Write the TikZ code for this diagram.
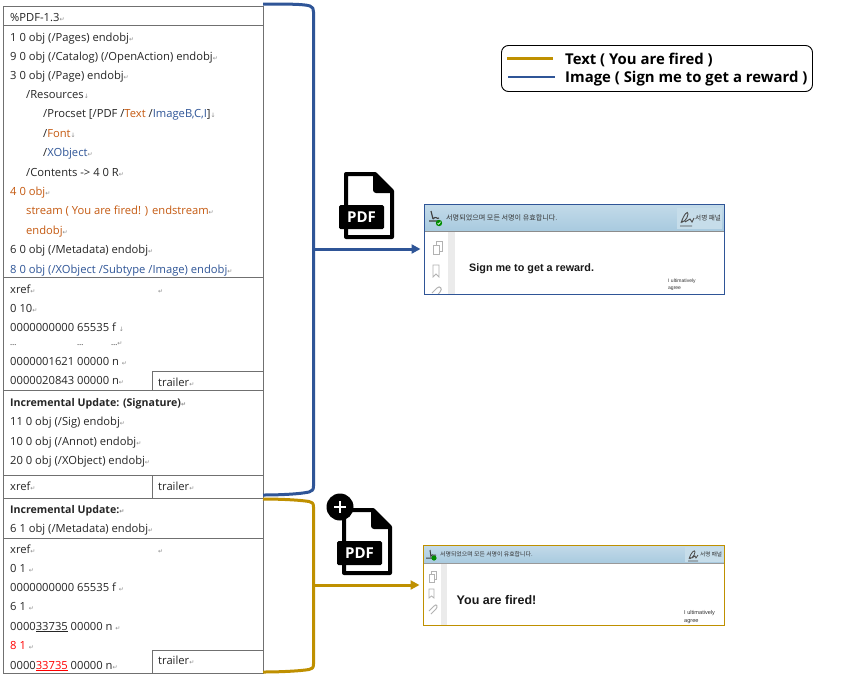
\documentclass[tikz,border=0pt]{standalone}
\usepackage{fontspec}
\setmainfont{Open Sans}
\newfontfamily\krfont{Noto Sans CJK KR}
\newfontfamily\arialfont{Liberation Sans}
\newfontfamily\symfont{DejaVu Sans}
\usetikzlibrary{arrows.meta}
\definecolor{imgblue}{HTML}{2F5597}
\definecolor{txtgold}{HTML}{BF9000}
\definecolor{objorange}{HTML}{C55A11}
\definecolor{markgrey}{HTML}{8A8A8A}
\definecolor{hdrblue}{HTML}{A8CADF}
\definecolor{rulegrey}{HTML}{707070}
\newcommand{\rt}{{\symfont\fontsize{6}{6}\selectfont\textcolor{markgrey}{↵}}}
\newcommand{\dn}{{\symfont\fontsize{6}{6}\selectfont\textcolor{markgrey}{↓}}}
\newcommand{\oc}[1]{\textcolor{objorange}{#1}}
\newcommand{\bc}[1]{\textcolor{imgblue}{#1}}
\tikzset{
  x=1pt,y=-1pt,
  code/.style={anchor=base west,inner sep=0pt,font=\fontsize{11.2}{12}\selectfont,text=black!85},
  rowline/.style={draw=rulegrey,line width=1pt},
  brace/.style={line width=3pt,line join=round,rounded corners=0pt},
  shotlabel/.style={anchor=base west,inner sep=0pt,text=black!80},
  note/.style={anchor=base west,inner sep=0pt,font=\arialfont\fontsize{5}{6}\selectfont,text=black!80},
  headline/.style={anchor=base west,inner sep=0pt,font=\arialfont\bfseries,text=black!90},
  legendtext/.style={anchor=base west,inner sep=0pt,font=\bfseries\fontsize{14.9}{16}\selectfont,text=black},
  sideicon/.style={draw=black!30,line width=0.8pt,fill=white},
  boldrow/.style={font=\bfseries\fontsize{10.6}{12}\selectfont},
  flow/.style={line width=3pt,-{Triangle[length=9pt,width=9pt]}},
}
\begin{document}
\begin{tikzpicture}
\useasboundingbox (0,0) rectangle (841,678);
\fill[white] (0,0) rectangle (841,678);

% table outline and rows
\draw[rowline] (3,6) rectangle (263,673);
\foreach \yy in {25,277,390,475,498,538} \draw[rowline] (3,\yy) -- (263,\yy);
\draw[rowline] (152,371) -- (263,371);
\draw[rowline] (152,371) -- (152,390);
\draw[rowline] (152,475) -- (152,498);
\draw[rowline] (152,650) -- (263,650);
\draw[rowline] (152,650) -- (152,673);

% first block
\node[code] (t01) at (10,21) {\%PDF-1.3\rt};
\node[code] (t02) at (10,41) {1 0 obj (/Pages) endobj\rt};
\node[code] (t03) at (10,60) {9 0 obj (/Catalog) (/OpenAction) endobj\rt};
\node[code] (t04) at (10,79) {3 0 obj (/Page) endobj\rt};
\node[code] (t05) at (26,98) {/Resources\dn};
\node[code] (t06) at (43,117) {/Procset [/PDF /\oc{Text} /\bc{ImageB,C,I}]\dn};
\node[code] (t07) at (43,137) {/\oc{Font}\dn};
\node[code] (t08) at (43,156) {/\bc{XObject}\rt};
\node[code] (t09) at (26,176) {/Contents -> 4 0 R\rt};
\node[code,text=objorange] (t10) at (10,195) {4 0 obj\rt};
\node[code,text=objorange] (t11) at (26,214) {stream ( You are fired! ) endstream\rt};
\node[code,text=objorange] (t12) at (26,234) {endobj\rt};
\node[code] (t13) at (10,253) {6 0 obj (/Metadata) endobj\rt};
\node[code,text=imgblue] (t14) at (10,273) {8 0 obj (/XObject /Subtype /Image) endobj\rt};

% first xref
\node[code] (t15) at (10,293) {xref\rt};
\node[code] (t16) at (158,293) {\rt};
\node[code] (t17) at (10,312) {0 10\rt};
\node[code] (t18) at (10,331) {0000000000 65535 f \dn};
\node[code] (t19) at (10,345) {\fontsize{8}{8}\selectfont …};
\node[code] (t20) at (77,345) {\fontsize{8}{8}\selectfont …};
\node[code] (t21) at (111,345) {\fontsize{8}{8}\selectfont …\rt};
\node[code] (t22) at (10,365) {0000001621 00000 n \rt};
\node[code] (t23) at (10,384) {0000020843 00000 n\rt};
\node[code] (t24) at (158,386) {trailer\rt};

% signature update
\node[code,boldrow] (t25) at (10,406) {Incremental Update: (Signature)\rt};
\node[code] (t26) at (10,425) {11 0 obj (/Sig) endobj\rt};
\node[code] (t27) at (10,445) {10 0 obj (/Annot) endobj\rt};
\node[code] (t28) at (10,464) {20 0 obj (/XObject) endobj\rt};
\node[code] (t29) at (10,490) {xref\rt};
\node[code] (t30) at (158,490) {trailer\rt};

% second update
\node[code,boldrow] (t31) at (10,513) {Incremental Update:\rt};
\node[code] (t32) at (10,532) {6 1 obj (/Metadata) endobj\rt};
\node[code] (t33) at (10,553) {xref\rt};
\node[code] (t34) at (158,553) {\rt};
\node[code] (t35) at (10,572) {0 1 \rt};
\node[code] (t36) at (10,591) {0000000000 65535 f \rt};
\node[code] (t37) at (10,610) {6 1 \rt};
\node[code] (t38) at (10,630) {0000\underline{33735} 00000 n \rt};
\node[code] (t39) at (10,649) {\textcolor{red}{8 1} \rt};
\node[code] (t40) at (10,669) {0000\textcolor{red}{\underline{33735}} 00000 n\rt};
\node[code] (t41) at (158,664) {trailer\rt};

% PDF icon 1
\begin{scope}[shift={(339,172)}]
  \draw[line width=4pt,line join=round,fill=white] (7,2) -- (36,2) -- (53,19) -- (53,65) -- (7,65) -- cycle;
  \fill[black,rounded corners=1pt] (34,0) -- (55,21) -- (36,21) -- (34,19) -- cycle;
  \fill[black,rounded corners=1.5pt] (0,33) rectangle (45,57);
  \node[anchor=center,inner sep=0pt,text=white,font=\bfseries\fontsize{15}{15}\selectfont] (pdfa) at (22.5,45) {PDF};
\end{scope}

% PDF icon 2
\begin{scope}[shift={(337,508)}]
  \draw[line width=4pt,line join=round,fill=white] (7,2) -- (36,2) -- (53,19) -- (53,65) -- (7,65) -- cycle;
  \fill[black,rounded corners=1pt] (34,0) -- (55,21) -- (36,21) -- (34,19) -- cycle;
  \fill[black,rounded corners=1.5pt] (0,33) rectangle (45,57);
  \node[anchor=center,inner sep=0pt,text=white,font=\bfseries\fontsize{15}{15}\selectfont] (pdfb) at (22.5,45) {PDF};
\end{scope}
\fill[black] (340,507) circle (13.5);
\draw[white,line width=2pt] (334,507) -- (346,507) (340,501) -- (340,513);

% screenshot 1
\coordinate (shotaW) at (420.5,249);
\begin{scope}
  \clip (425,204) rectangle (724,294);
  \fill[white] (425,204) rectangle (724,294);
  \shade[top color=hdrblue!70,bottom color=hdrblue] (425,205) rectangle (724,231);
  \fill[black!45] (425,230.5) rectangle (724,232);
  \fill[hdrblue!65] (677,208) rectangle (722,229);
  \fill[black!8] (448,232) rectangle (455,294);
  % signature glyph
  \draw[black!75,line width=1.1pt] (431,211) -- (433,219) (429,221) -- (438,221) (433,219) .. controls (436,215) and (437,220) .. (439,218);
  \fill[green!55!black] (439,223) circle (3.2);
  \draw[white,line width=0.6pt] (437.5,223) -- (438.6,224.2) -- (440.6,221.8);
  \node[shotlabel,font=\krfont\fontsize{7.1}{8}\selectfont] (lab1) at (446,220.5) {서명되었으며 모든 서명이 유효합니다.};
  \draw[black!70,line width=0.9pt] (681,223) .. controls (684,214) and (688,210) .. (688,214) .. controls (688,219) and (681,225) .. (682,220) (680,226) -- (692,226) (685,222) -- (690,219) -- (692,222) -- (694,218);
  \node[shotlabel,font=\krfont\fontsize{6.6}{8}\selectfont] (lab2) at (695,220.5) {서명 패널};
  % side icons
  \draw[sideicon] (436,241) rectangle (442,251);
  \draw[sideicon] (433,245) rectangle (439,254);
  \draw[sideicon] (433,265) -- (439,265) -- (439,277) -- (436,274) -- (433,277) -- cycle;
  \draw[black!30,line width=1pt] (432,293) -- (437,288) .. controls (440,285) and (443,289) .. (440,292) -- (436,297);
  \node[headline,font=\arialfont\bfseries\fontsize{10.8}{12}\selectfont] (msg1) at (469,271) {Sign me to get a reward.};
  \node[note] (n1a) at (668,282) {I ultimatively};
  \node[note] (n1b) at (668,289.5) {agree};
\end{scope}
\draw[imgblue,line width=1pt] (424.5,204) rectangle (724,294);

% screenshot 2
\coordinate (shotbW) at (419.5,585);
\begin{scope}
  \clip (423.5,545.5) rectangle (724.5,625);
  \fill[white] (423,545) rectangle (725,625);
  \shade[top color=hdrblue!70,bottom color=hdrblue] (423,546) rectangle (725,563);
  \fill[black!40] (423,563) rectangle (725,564.2);
  \fill[hdrblue!65] (685,547) rectangle (724,562);
  \fill[black!8] (441,564) rectangle (447,625);
  \draw[black!75,line width=1pt] (430,550) -- (431,557) (426,558) -- (434,558) (431,556) .. controls (433,553) and (434,557) .. (436,555);
  \fill[green!55!black] (434,558) circle (2.6);
  \node[shotlabel,font=\krfont\fontsize{5.9}{7}\selectfont] (lab3) at (440,556.8) {서명되었으며 모든 서명이 유효합니다.};
  \draw[black!70,line width=0.8pt] (689,559) .. controls (691,552) and (695,549) .. (695,552) .. controls (695,556) and (689,561) .. (690,557) (688,561) -- (698,561) (692,558) -- (695,556) -- (696,558) -- (698,555);
  \node[shotlabel,font=\krfont\fontsize{5.6}{7}\selectfont] (lab4) at (700,556.8) {서명 패널};
  \draw[sideicon] (431,571) rectangle (436,579);
  \draw[sideicon] (429,574) rectangle (434,582);
  \draw[sideicon] (429,589) -- (434,589) -- (434,598) -- (431.5,596) -- (429,598) -- cycle;
  \draw[black!30,line width=1pt] (429,611) -- (434,606) .. controls (437,603) and (438,607) .. (436,609) -- (431,614);
  \node[headline,font=\arialfont\bfseries\fontsize{12.5}{14}\selectfont] (msg2) at (456.5,604.5) {You are fired!};
  \node[note,font=\arialfont\fontsize{5.6}{6}\selectfont] (n2a) at (684,614.5) {I ultimatively};
  \node[note,font=\arialfont\fontsize{5.6}{6}\selectfont] (n2b) at (684,622) {agree};
\end{scope}
\draw[txtgold,line width=1pt] (423.5,545.5) rectangle (724.5,625);

% braces and arrows
\coordinate (bluetop) at (263,4);
\coordinate (bluebot) at (263,495);
\coordinate (bluemid) at (313,249);
\coordinate (goldtop) at (263,499);
\coordinate (goldbot) at (263,672);
\coordinate (goldmid) at (313,585);
\draw[brace,imgblue] (bluetop) .. controls (285,4) and (305,4) .. (310,6) .. controls (313,7) and (313.5,9) .. (313.5,12)
  -- (313.5,486) .. controls (313.5,490) and (312,491) .. (309,492) .. controls (300,494) and (280,495) .. (bluebot);
\draw[brace,txtgold] (goldtop) .. controls (280,499) and (300,500) .. (309,501.5) .. controls (312,502) and (313.5,503) .. (313.5,507)
  -- (313.5,664) .. controls (313.5,668) and (312,669) .. (309,669.5) .. controls (300,671) and (280,672) .. (goldbot);
\draw[flow,imgblue] (bluemid) -- (shotaW);
\draw[flow,txtgold] (goldmid) -- (shotbW);

% legend
\draw[black,line width=0.9pt,rounded corners=7pt] (501.5,45.5) rectangle (812.5,91.5);
\coordinate (lga) at (507,58.5);
\coordinate (lgb) at (553,58.5);
\coordinate (lgc) at (508,77);
\coordinate (lgd) at (555,77);
\draw[txtgold,line width=2.6pt] (lga) -- (lgb);
\draw[imgblue,line width=2.6pt] (lgc) -- (lgd);
\node[legendtext] (leg1) at (565,64) {Text ( You are fired )};
\node[legendtext] (leg2) at (565,82.5) {Image ( Sign me to get a reward )};
\end{tikzpicture}
\end{document}
